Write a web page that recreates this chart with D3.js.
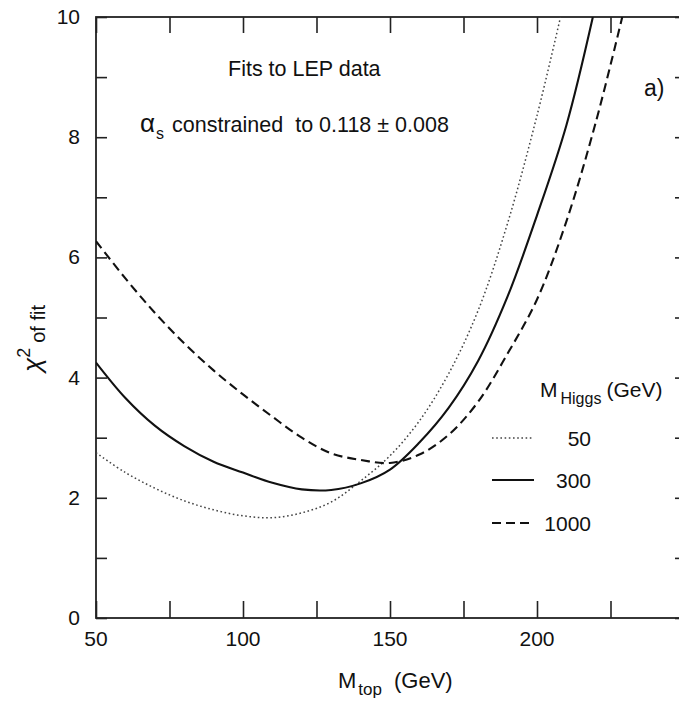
<!DOCTYPE html>
<html>
<head>
<meta charset="utf-8">
<script src="https://cdn.jsdelivr.net/npm/d3@7"></script>
<style>
  body { margin: 0; background: #fff; }
  svg text { font-family: "Liberation Sans", Arial, sans-serif; fill: #111; }
</style>
</head>
<body>
<svg id="chart" width="679" height="703"></svg>
<script>
// curves: chi^2 vs M_top for three Higgs masses
const mtopH50 = [50, 60, 70, 80, 90, 100, 110, 120, 130, 140, 150, 160, 170, 180, 190, 200, 208];
const chiH50 = [2.75, 2.42, 2.16, 1.95, 1.8, 1.7, 1.67, 1.75, 1.93, 2.28, 2.7, 3.28, 4.07, 5.12, 6.57, 8.36, 10];

const mtopH300 = [50, 60, 70, 80, 90, 100, 110, 120, 130, 140, 150, 160, 170, 180, 190, 200, 210, 219];
const chiH300 = [4.25, 3.66, 3.2, 2.86, 2.6, 2.42, 2.25, 2.14, 2.13, 2.24, 2.47, 2.92, 3.5, 4.28, 5.35, 6.7, 8.2, 10];

const mtopH1000 = [50, 60, 70, 80, 90, 100, 110, 120, 130, 140, 150, 160, 170, 180, 190, 200, 210, 220, 229];
const chiH1000 = [6.27, 5.65, 5.08, 4.57, 4.12, 3.72, 3.35, 3.0, 2.74, 2.63, 2.58, 2.72, 3.05, 3.6, 4.4, 5.3, 6.6, 8.25, 10];

const higgsLabels = ["50", "300", "1000"];
const xTicks = [50, 75, 100, 125, 150, 175, 200, 225, 250];
const xTickLabels = [50, 100, 150, 200];
const yTicks = [0, 1, 2, 3, 4, 5, 6, 7, 8, 9, 10];
const yTickLabels = [0, 2, 4, 6, 8, 10];

const PL = 96, PR = 684, PT = 17, PB = 618;

let svg = d3.select('#chart');
let x = d3.scaleLinear().domain([50, 250]).range([PL, PR]);
let y = d3.scaleLinear().domain([0, 10]).range([PB, PT]);

svg.append('defs').append('clipPath').attr('id', 'plot')
  .append('rect').attr('x', PL).attr('y', PT)
  .attr('width', PR - PL).attr('height', PB - PT);

// axes: ticks point inwards on all four sides
let axStyle = g => {
  g.select('.domain').remove();
  g.selectAll('.tick line').attr('stroke', '#222').attr('stroke-width', 1.6);
  g.selectAll('.tick text').remove();
};
svg.append('g').attr('transform', `translate(0,${PB})`)
  .call(d3.axisBottom(x).tickValues(xTicks).tickSize(-17)).call(axStyle);
svg.append('g').attr('transform', `translate(0,${PT})`)
  .call(d3.axisTop(x).tickValues(xTicks).tickSize(-16)).call(axStyle);
svg.append('g').attr('transform', `translate(${PL},0)`)
  .call(d3.axisLeft(y).tickValues(yTicks).tickSize(-11)).call(axStyle);
svg.append('g').attr('transform', `translate(${PR},0)`)
  .call(d3.axisRight(y).tickValues(yTicks).tickSize(-9)).call(axStyle);

svg.append('rect').attr('x', PL).attr('y', PT)
  .attr('width', PR - PL).attr('height', PB - PT)
  .attr('fill', 'none').attr('stroke', '#222').attr('stroke-width', 1.8);

svg.append('g').selectAll('text').data(xTickLabels).join('text')
  .attr('x', d => x(d)).attr('y', 646)
  .attr('text-anchor', 'middle').attr('font-size', 21).text(d => d);
svg.append('g').selectAll('text').data(yTickLabels).join('text')
  .attr('x', 80).attr('y', d => y(d) + 7)
  .attr('text-anchor', 'end').attr('font-size', 21).text(d => d);

// axis titles
let xt = svg.append('text').attr('x', 338).attr('y', 688).attr('font-size', 22);
xt.append('tspan').text('M');
xt.append('tspan').attr('dy', 7).attr('dx', 2).attr('font-size', 17).text('top');
xt.append('tspan').attr('dy', -7).attr('dx', 12).text('(GeV)');

let yt = svg.append('text').attr('transform', 'translate(41,372) rotate(-90)').attr('font-size', 26);
yt.append('tspan').attr('font-style', 'italic').text('χ');
yt.append('tspan').attr('dy', -11).attr('font-size', 18).text('2');
yt.append('tspan').attr('dy', 15).attr('dx', 5).attr('font-size', 20).text('of fit');

// annotations
svg.append('text').attr('x', 228).attr('y', 76).attr('font-size', 21.5).text('Fits to LEP data');
let at = svg.append('text').attr('x', 140).attr('y', 132).attr('font-size', 21.5);
at.append('tspan').attr('font-size', 26).text('α');
at.append('tspan').attr('dy', 7).attr('dx', 1).attr('font-size', 16).text('s');
at.append('tspan').attr('dy', -7).attr('dx', 8).text('constrained');
at.append('tspan').attr('dx', 12).text('to 0.118 ± 0.008');
svg.append('text').attr('x', 644).attr('y', 96).attr('font-size', 23).text('a)');

// curves
let series = [
  { xs: mtopH50, ys: chiH50, dash: '1.6,2.6', width: 1.5, color: '#444' },
  { xs: mtopH300, ys: chiH300, dash: null, width: 2.1, color: '#111' },
  { xs: mtopH1000, ys: chiH1000, dash: '9,5', width: 2.1, color: '#111' }
];
let line = d3.line().x(d => x(d[0])).y(d => y(d[1])).curve(d3.curveCatmullRom.alpha(0.5));
let curves = svg.append('g').attr('clip-path', 'url(#plot)');
series.forEach(s => {
  curves.append('path').datum(d3.zip(s.xs, s.ys))
    .attr('d', line).attr('fill', 'none')
    .attr('stroke', s.color).attr('stroke-width', s.width)
    .attr('stroke-dasharray', s.dash);
});

// legend
let lt = svg.append('text').attr('x', 540).attr('y', 397).attr('font-size', 21);
lt.append('tspan').text('M');
lt.append('tspan').attr('dy', 7).attr('dx', 3).attr('font-size', 16).text('Higgs');
lt.append('tspan').attr('dy', -7).attr('dx', 5).text('(GeV)');

let legY = [438, 480, 523];
series.forEach((s, i) => {
  svg.append('line').attr('x1', 492).attr('x2', 534)
    .attr('y1', legY[i]).attr('y2', legY[i])
    .attr('stroke', s.color).attr('stroke-width', s.width)
    .attr('stroke-dasharray', s.dash);
  svg.append('text').attr('x', 591).attr('y', legY[i] + 8)
    .attr('text-anchor', 'end').attr('font-size', 21).text(higgsLabels[i]);
});
</script>
</body>
</html>
